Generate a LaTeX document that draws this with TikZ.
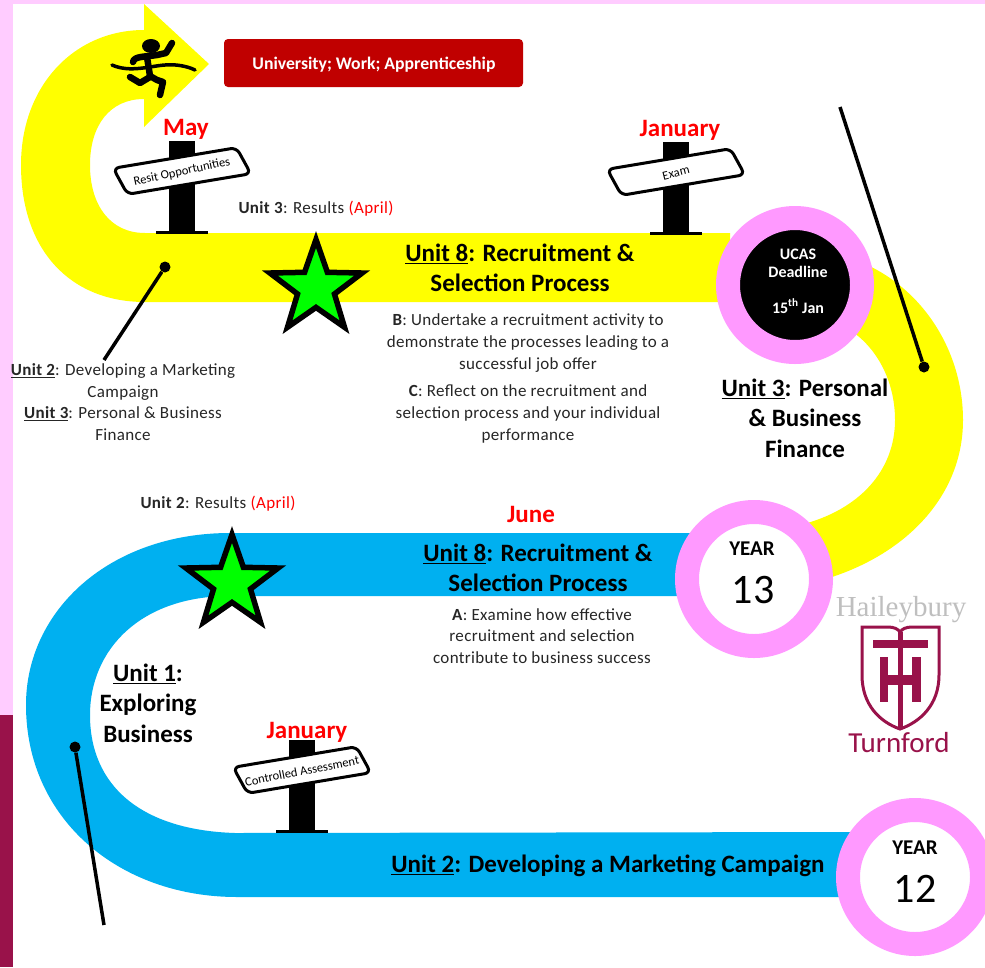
\documentclass[tikz,border=0pt]{standalone}
\usepackage{fontspec}
\setmainfont{Carlito}
\newfontfamily\bodyfont[LetterSpace=2]{Carlito}
\newfontfamily\logoserif{Liberation Serif}
\usetikzlibrary{shapes.geometric}
\definecolor{edgepink}{HTML}{FFCCFF}
\definecolor{ringpink}{HTML}{FF99FF}
\definecolor{maroon}{HTML}{99124A}
\definecolor{roadblue}{HTML}{00B0F0}
\definecolor{roadyellow}{HTML}{FFFF00}
\definecolor{boxred}{HTML}{C00000}
\definecolor{bodygrey}{HTML}{262626}
\tikzset{
  heading/.style={align=center,font=\bfseries\fontsize{25}{30.5}\selectfont,inner sep=0pt},
  month/.style={text=red,font=\bfseries\fontsize{25}{28}\selectfont,inner sep=0pt},
  body/.style={align=center,text=bodygrey,font=\bodyfont\fontsize{17}{21.7}\selectfont,inner sep=0pt},
  resultlabel/.style={text=bodygrey,font=\bodyfont\fontsize{17}{20}\selectfont,inner sep=0pt},
  yearlabel/.style={font=\bfseries\fontsize{21}{24}\selectfont,inner sep=0pt},
  yearnumber/.style={font=\fontsize{42}{44}\selectfont,inner sep=0pt},
  ring/.style={circle,draw=ringpink,line width=24pt,minimum size=134pt,inner sep=0pt},
  award/.style={star,star points=5,star point ratio=2.5,draw=black,fill=green,line width=5.5pt,
                minimum size=97pt,inner sep=0pt},
  signboard/.style={draw=black,fill=white,line width=3pt,rounded corners=6pt,
                    minimum width=125pt,minimum height=28pt,inner sep=0pt},
  signtext/.style={font=\fontsize{12.5}{14}\selectfont,inner sep=0pt},
  pinline/.style={line width=3.5pt,black},
  pindot/.style={circle,fill=black,minimum size=11pt,inner sep=0pt},
  runner/.style={line width=6.5pt,line cap=round,line join=round,black}
}
\begin{document}
\begin{tikzpicture}[x=1pt,y=-1pt]
  \clip (0,0) rectangle (985,967);
  \fill[white] (0,0) rectangle (985,967);
  \fill[edgepink] (0,0) rectangle (985,4);
  \fill[edgepink] (0,0) rectangle (13,715);
  \fill[maroon] (0,715) rectangle (13,967);

  \fill[roadyellow] (144,4) -- (209,64) -- (144,127) -- (144,99)
      .. controls (110,99) and (90,125) .. (90,165)
      .. controls (90,205) and (110,233) .. (145,233) -- (730,233) -- (730,302) -- (145,302)
      .. controls (70,302) and (21,250) .. (21,165)
      .. controls (21,85) and (75,30) .. (144,30) -- cycle;
  \fill[roadyellow] (840,255) .. controls (915,275) and (963,345) .. (963,420)
      .. controls (963,500) and (900,560) .. (815,582) -- (800,525)
      .. controls (860,510) and (895,470) .. (895,420)
      .. controls (895,385) and (880,350) .. (850,330) -- cycle;
  \fill[roadblue] (700,533) -- (230,533)
      .. controls (110,533) and (26,610) .. (26,705)
      .. controls (26,820) and (120,897) .. (237,897) -- (860,897) -- (860,832) -- (235,833)
      .. controls (140,830) and (90,785) .. (90,715)
      .. controls (90,650) and (140,596) .. (230,596) -- (700,596) -- cycle;

  \foreach \i/\x/\y/\r/\t in {may/182/141/12/Resit Opportunities,
                              jan/676/142/14/Exam,
                              ctl/302/740/11/Controlled Assessment}{
    \fill (\x-13,\y) rectangle (\x+13,\y+91);
    \fill (\x-26,\y+90) rectangle (\x+26,\y+93);
    \node[signboard,rotate=9.5,xslant=-.35] (sign\i) at (\x,\y+30) {};
    \node[signtext,rotate=\r] (signtext\i) at (\x,\y+31) {\t};
  }

  \node[ring,fill=black] (ringucas) at (795,285) {};
  \node[text=white,align=center,font=\bfseries\fontsize{16}{18}\selectfont,inner sep=0pt] (ucastext) at (798,281)
       {UCAS\\Deadline\\[18pt]15\textsuperscript{th} Jan};
  \node[ring,fill=white] (ring13) at (754,579) {};
  \node[ring,fill=white] (ring12) at (915,877) {};
  \node[yearlabel] (year13) at (752,549) {YEAR};
  \node[yearnumber] (num13) at (753,590) {13};
  \node[yearlabel] (year12) at (915,848) {YEAR};
  \node[yearnumber] (num12) at (915,889) {12};

  \node[award] (star3) at (316,288) {};
  \node[award] (star2) at (232,583) {};

  \fill[boxred,rounded corners=4pt] (224,39) rectangle (523,87);
  \node[text=white,font=\bfseries\fontsize{17.7}{20}\selectfont,inner sep=0pt] (nextstep) at (374,65)
       {University; Work; Apprenticeship};

  \node[month] (maylabel) at (186,129) {May};
  \node[month] (janlabel) at (680,130) {January};
  \node[month] (janlabelb) at (307,732) {January};
  \node[month] (junelabel) at (531,514) {June};

  \node[heading] (unit8b) at (520,268) {\underline{Unit 8}: Recruitment \&\\Selection Process};
  \node[heading] (unit8a) at (538,568) {\underline{Unit 8}: Recruitment \&\\Selection Process};
  \node[heading] (unit3) at (805,418) {\underline{Unit 3}: Personal\\\& Business\\Finance};
  \node[heading] (unit1) at (148,703) {\underline{Unit 1}:\\Exploring\\Business};
  \node[heading] (unit2) at (608,866) {\underline{Unit 2}: Developing a Marketing Campaign};

  \node[body] (partb) at (528,343) {\textbf{B}: Undertake a recruitment activity to\\demonstrate the processes leading to a\\successful job offer};
  \node[body] (partc) at (528,414) {\textbf{C}: Reflect on the recruitment and\\selection process and your individual\\performance};
  \node[body] (parta) at (542,636) {\textbf{A}: Examine how effective\\recruitment and selection\\contribute to business success};
  \node[body] (recap) at (123,402) {\textbf{\underline{Unit 2}}: Developing a Marketing\\Campaign\\\textbf{\underline{Unit 3}}: Personal \& Business\\Finance};
  \node[resultlabel] (result3) at (316,209) {\textbf{Unit 3}: Results \textcolor{red}{(April)}};
  \node[resultlabel] (result2) at (218,504) {\textbf{Unit 2}: Results \textcolor{red}{(April)}};

  \node[pindot] (doty) at (165,267) {};
  \node[pindot] (dotu) at (924,367) {};
  \node[pindot] (dotb) at (75,747) {};
  \coordinate (endy) at (104,360);
  \coordinate (endu) at (840,107);
  \coordinate (endb) at (104,925);
  \draw[pinline] (doty) -- (endy);
  \draw[pinline] (dotu) -- (endu);
  \draw[pinline] (dotb) -- (endb);

  \fill (151,46) ellipse (9 and 7);
  \draw[runner] (133,62) .. controls (134,56) and (145,57) .. (157,55) -- (166,53) -- (172,43);
  \draw[runner] (147,57) -- (150,76) -- (157,80) -- (163,82) -- (160,95);
  \draw[runner] (130,77) -- (140,83) -- (150,77);
  \draw[runner,line width=3.5pt] (112,65) .. controls (130,73) and (150,66) .. (165,65)
      .. controls (175,64) and (187,66) .. (195,70);

  \node[text=black!25,font=\logoserif\fontsize{29}{30}\selectfont,inner sep=0pt] (logoname) at (901,610) {Haileybury};
  \draw[maroon,line width=3pt] (862,627) -- (888,627) .. controls (894,627) and (898,629) .. (900,632)
      .. controls (902,629) and (906,627) .. (912,627) -- (939,627) -- (939,675)
      .. controls (939,705) and (920,722) .. (900,729)
      .. controls (880,722) and (862,705) .. (862,675) -- cycle;
  \fill[maroon] (873,640) rectangle (928,648);
  \fill[maroon] (898,632) rectangle (903,729);
  \fill[maroon] (880,657) rectangle (888,702);
  \fill[maroon] (912,657) rectangle (921,702);
  \fill[maroon] (880,675) rectangle (921,685);
  \node[text=maroon,font=\fontsize{29}{30}\selectfont,inner sep=0pt] (logotown) at (899,743) {Turnford};
\end{tikzpicture}
\end{document}
